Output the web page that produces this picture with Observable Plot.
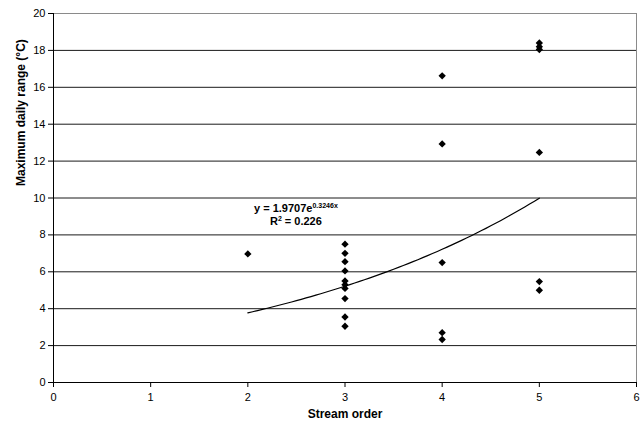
<!DOCTYPE html>
<html>
<head>
<meta charset="utf-8">
<script src="https://cdn.jsdelivr.net/npm/d3@7"></script>
<script src="https://cdn.jsdelivr.net/npm/@observablehq/plot@0.6"></script>
<style>
  html, body { margin: 0; padding: 0; background: #fff; }
  #chart svg { display: block; }
</style>
</head>
<body>
<div id="chart"></div>
<script>
// Stream order of each site
const streamOrder = [2, 3, 3, 3, 3, 3, 3, 3, 3, 3, 3, 4, 4, 4, 4, 4, 5, 5, 5, 5, 5, 5];
// Maximum daily range (°C)
const maxRange = [6.97, 7.5, 7.0, 6.55, 6.05, 5.5, 5.3, 5.1, 4.55, 3.55, 3.05, 16.62, 12.93, 6.5, 2.7, 2.33, 18.4, 18.2, 18.05, 12.47, 5.47, 5.0];

// Exponential trendline as shown on the chart
const trendA = 1.9707;
const trendB = 0.3246;
const trendR2 = "0.226";
const trendXMin = 2, trendXMax = 5;

const xTicks = [0, 1, 2, 3, 4, 5, 6];
const yTicks = [0, 2, 4, 6, 8, 10, 12, 14, 16, 18, 20];
const gridTicks = [2, 4, 6, 8, 10, 12, 14, 16, 18];

const xLabel = "Stream order";
const yLabel = "Maximum daily range (°C)";

const points = streamOrder.map((x, i) => ({x, y: maxRange[i]}));
const trend = d3.range(trendXMin, trendXMax + 1e-9, 0.05).map(x => ({x, y: trendA * Math.exp(trendB * x)}));

const plot = Plot.plot({
  width: 643,
  height: 430,
  marginLeft: 53,
  marginRight: 7,
  marginTop: 13,
  marginBottom: 48,
  style: {fontFamily: "'Liberation Sans', Arial, sans-serif", fontSize: "11px", color: "#000", background: "#fff"},
  x: {domain: [0, 6], ticks: xTicks, tickFormat: "d", tickSize: 5, tickPadding: 6, label: null, line: false},
  y: {domain: [0, 20], ticks: yTicks, tickFormat: "d", tickSize: 5, tickPadding: 3, label: null, line: false},
  marks: [
    Plot.ruleY(gridTicks, {stroke: "#1a1a1a", strokeWidth: 1}),
    Plot.ruleY([20], {stroke: "#8a8a8a", strokeWidth: 1}),
    Plot.ruleX([6], {stroke: "#8a8a8a", strokeWidth: 1}),
    Plot.ruleY([0], {stroke: "#000", strokeWidth: 1}),
    Plot.ruleX([0], {stroke: "#000", strokeWidth: 1}),
    Plot.line(trend, {x: "x", y: "y", stroke: "#000", strokeWidth: 1.2}),
    Plot.dot(points, {x: "x", y: "y", symbol: "diamond2", r: 3.3, fill: "#000", stroke: "none"}),
    Plot.text([xLabel], {frameAnchor: "bottom", dy: 35, fontWeight: "bold", fontSize: 12}),
    Plot.text([yLabel], {frameAnchor: "left", rotate: -90, dx: -32, dy: -12, fontWeight: "bold", fontSize: 12})
  ]
});

document.getElementById("chart").appendChild(plot);

// Trendline equation annotation, positioned via the plot's scales
const sx = plot.scale("x"), sy = plot.scale("y");
const svg = d3.select(plot);
const ex = sx.apply(2.5), ey1 = sy.apply(9.2), ey2 = sy.apply(8.5);
const t1 = svg.append("text")
  .attr("x", ex).attr("y", ey1)
  .attr("text-anchor", "middle")
  .attr("font-weight", "bold").attr("font-size", 11)
  .attr("font-family", "'Liberation Sans', Arial, sans-serif");
t1.append("tspan").text("y = " + trendA.toFixed(4) + "e");
t1.append("tspan").attr("dy", -4).attr("font-size", 7).text(trendB.toFixed(4) + "x");
const t2 = svg.append("text")
  .attr("x", ex).attr("y", ey2)
  .attr("text-anchor", "middle")
  .attr("font-weight", "bold").attr("font-size", 11)
  .attr("font-family", "'Liberation Sans', Arial, sans-serif");
t2.append("tspan").text("R");
t2.append("tspan").attr("dy", -4).attr("font-size", 7).text("2");
t2.append("tspan").attr("dy", 4).text(" = " + trendR2);
</script>
</body>
</html>
